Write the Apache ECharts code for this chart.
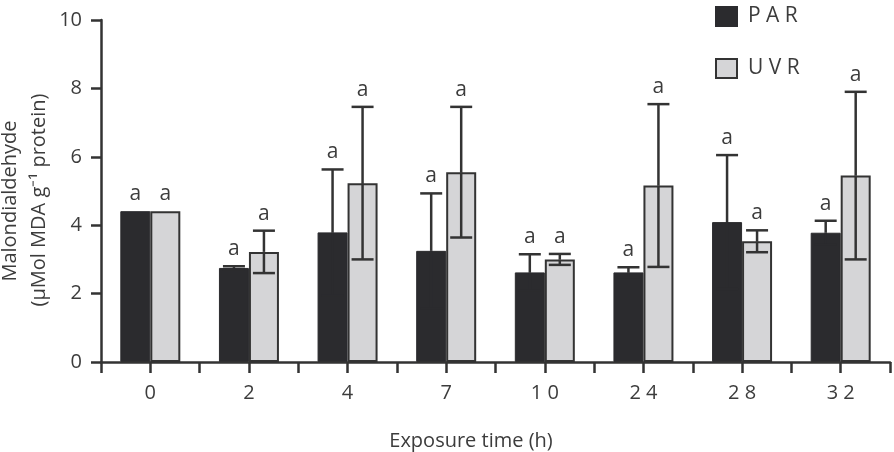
<!DOCTYPE html>
<html>
<head>
<meta charset="utf-8">
<script src="https://cdn.jsdelivr.net/npm/echarts@6/dist/echarts.min.js"></script>
<style>
  html, body { margin: 0; background: #fff; }
  #chart { width: 894px; height: 452px; }
</style>
</head>
<body>
<div id="chart"></div>
<script>
// exposure time categories (h)
const hours = ['0', '2', '4', '7', '10', '24', '28', '32'];
// malondialdehyde, mean and error bar half-length
const parMean = [4.41, 2.75, 3.79, 3.25, 2.62, 2.62, 4.09, 3.78];
const parErr = [0, 0.05, 1.84, 1.68, 0.53, 0.15, 1.96, 0.35];
const uvrMean = [4.41, 3.22, 5.23, 5.55, 3.0, 5.16, 3.53, 5.45];
const uvrErr = [0, 0.62, 2.23, 1.91, 0.16, 2.38, 0.32, 2.45];
// significance letters
const parLetters = ['a', 'a', 'a', 'a', 'a', 'a', 'a', 'a'];
const uvrLetters = ['a', 'a', 'a', 'a', 'a', 'a', 'a', 'a'];
const yTicks = [0, 2, 4, 6, 8, 10];

const FONT = 'Open Sans';
const INK = '#333';
const TEXT = '#3c3c3c';
const DARK = '#2b2b2e';
const LIGHT = '#d5d5d7';
const BAR_W = 30;

const spaced = (s) => s.split('').join(' ');

const chart = echarts.init(document.getElementById('chart'));

// error bars + letters on top of both bars of a category
function renderErrors(params, api) {
  const i = api.value(0);
  const half = BAR_W / 2;
  const cap = 11;
  const children = [];
  const pairs = [
    [api.value(1), api.value(2), -half, parLetters[i], DARK],
    [api.value(3), api.value(4), half, uvrLetters[i], INK],
  ];
  pairs.forEach(([m, e, dx, letter, lowColor]) => {
    const top = api.coord([i, m + e]);
    const mid = api.coord([i, m]);
    const bot = api.coord([i, m - e]);
    const x = top[0] + dx;
    if (e > 0) {
      const up = { stroke: INK, lineWidth: 2.5 };
      const low = { stroke: lowColor, lineWidth: 2.5 };
      children.push({ type: 'line', shape: { x1: x, y1: top[1], x2: x, y2: mid[1] }, style: up });
      children.push({ type: 'line', shape: { x1: x - cap, y1: top[1], x2: x + cap, y2: top[1] }, style: up });
      children.push({ type: 'line', shape: { x1: x, y1: mid[1], x2: x, y2: bot[1] }, style: low });
      children.push({ type: 'line', shape: { x1: x - cap, y1: bot[1], x2: x + cap, y2: bot[1] }, style: low });
    }
    children.push({
      type: 'text',
      x: x,
      y: top[1] - 17,
      style: {
        text: letter, fill: TEXT, fontSize: 21, fontFamily: FONT,
        align: 'center', verticalAlign: 'middle',
      },
    });
  });
  return { type: 'group', children };
}

const tickStyle = { color: INK, width: 2.5 };

const option = {
  animation: false,
  grid: { left: 101, right: 4, top: 20, bottom: 90 },
  legend: {
    data: ['PAR', 'UVR'],
    orient: 'vertical',
    left: 710,
    top: 1,
    itemWidth: 21,
    itemHeight: 19,
    itemGap: 31,
    icon: 'rect',
    formatter: spaced,
    textStyle: { color: TEXT, fontSize: 21, fontFamily: FONT, lineHeight: 19, padding: [0, 0, 0, 6] },
  },
  xAxis: [
    {
      type: 'category',
      data: hours,
      axisLine: { show: true, lineStyle: tickStyle },
      axisTick: { show: true, length: 11, lineStyle: tickStyle },
      axisLabel: { color: TEXT, fontSize: 20, fontFamily: FONT, margin: 21, formatter: spaced },
      z: 10,
    },
    {
      type: 'category',
      data: hours,
      position: 'bottom',
      axisLine: { show: false },
      axisTick: { show: true, alignWithLabel: true, length: 11, lineStyle: tickStyle },
      axisLabel: { show: false },
    },
  ],
  yAxis: {
    type: 'value',
    min: yTicks[0],
    max: yTicks[yTicks.length - 1],
    interval: 2,
    axisLine: { show: true, lineStyle: tickStyle },
    axisTick: { show: true, length: 10, lineStyle: tickStyle },
    axisLabel: { color: TEXT, fontSize: 20, fontFamily: FONT, margin: 19 },
    splitLine: { show: false },
  },
  series: [
    {
      name: 'PAR',
      type: 'bar',
      data: parMean,
      barWidth: BAR_W,
      barGap: '0%',
      itemStyle: { color: DARK, borderColor: DARK, borderWidth: 1 },
    },
    {
      name: 'UVR',
      type: 'bar',
      data: uvrMean,
      barWidth: BAR_W,
      barGap: '0%',
      itemStyle: { color: LIGHT, borderColor: INK, borderWidth: 2 },
    },
    {
      type: 'custom',
      renderItem: renderErrors,
      data: hours.map((h, i) => [i, parMean[i], parErr[i], uvrMean[i], uvrErr[i]]),
      z: 5,
    },
  ],
  graphic: [
    {
      type: 'text', x: 10, y: 201, rotation: Math.PI / 2,
      style: { text: 'Malondialdehyde', fill: TEXT, fontSize: 20, fontFamily: FONT, align: 'center', verticalAlign: 'middle' },
    },
    {
      type: 'text', x: 39, y: 200, rotation: Math.PI / 2,
      style: { text: '(\u00b5Mol MDA g\u207b\u00b9 protein)', fill: TEXT, fontSize: 20, fontFamily: FONT, align: 'center', verticalAlign: 'middle' },
    },
    {
      type: 'text', x: 471, y: 441,
      style: { text: 'Exposure time (h)', fill: TEXT, fontSize: 20, fontFamily: FONT, align: 'center', verticalAlign: 'middle' },
    },
  ],
};

chart.setOption(option);
</script>
</body>
</html>
